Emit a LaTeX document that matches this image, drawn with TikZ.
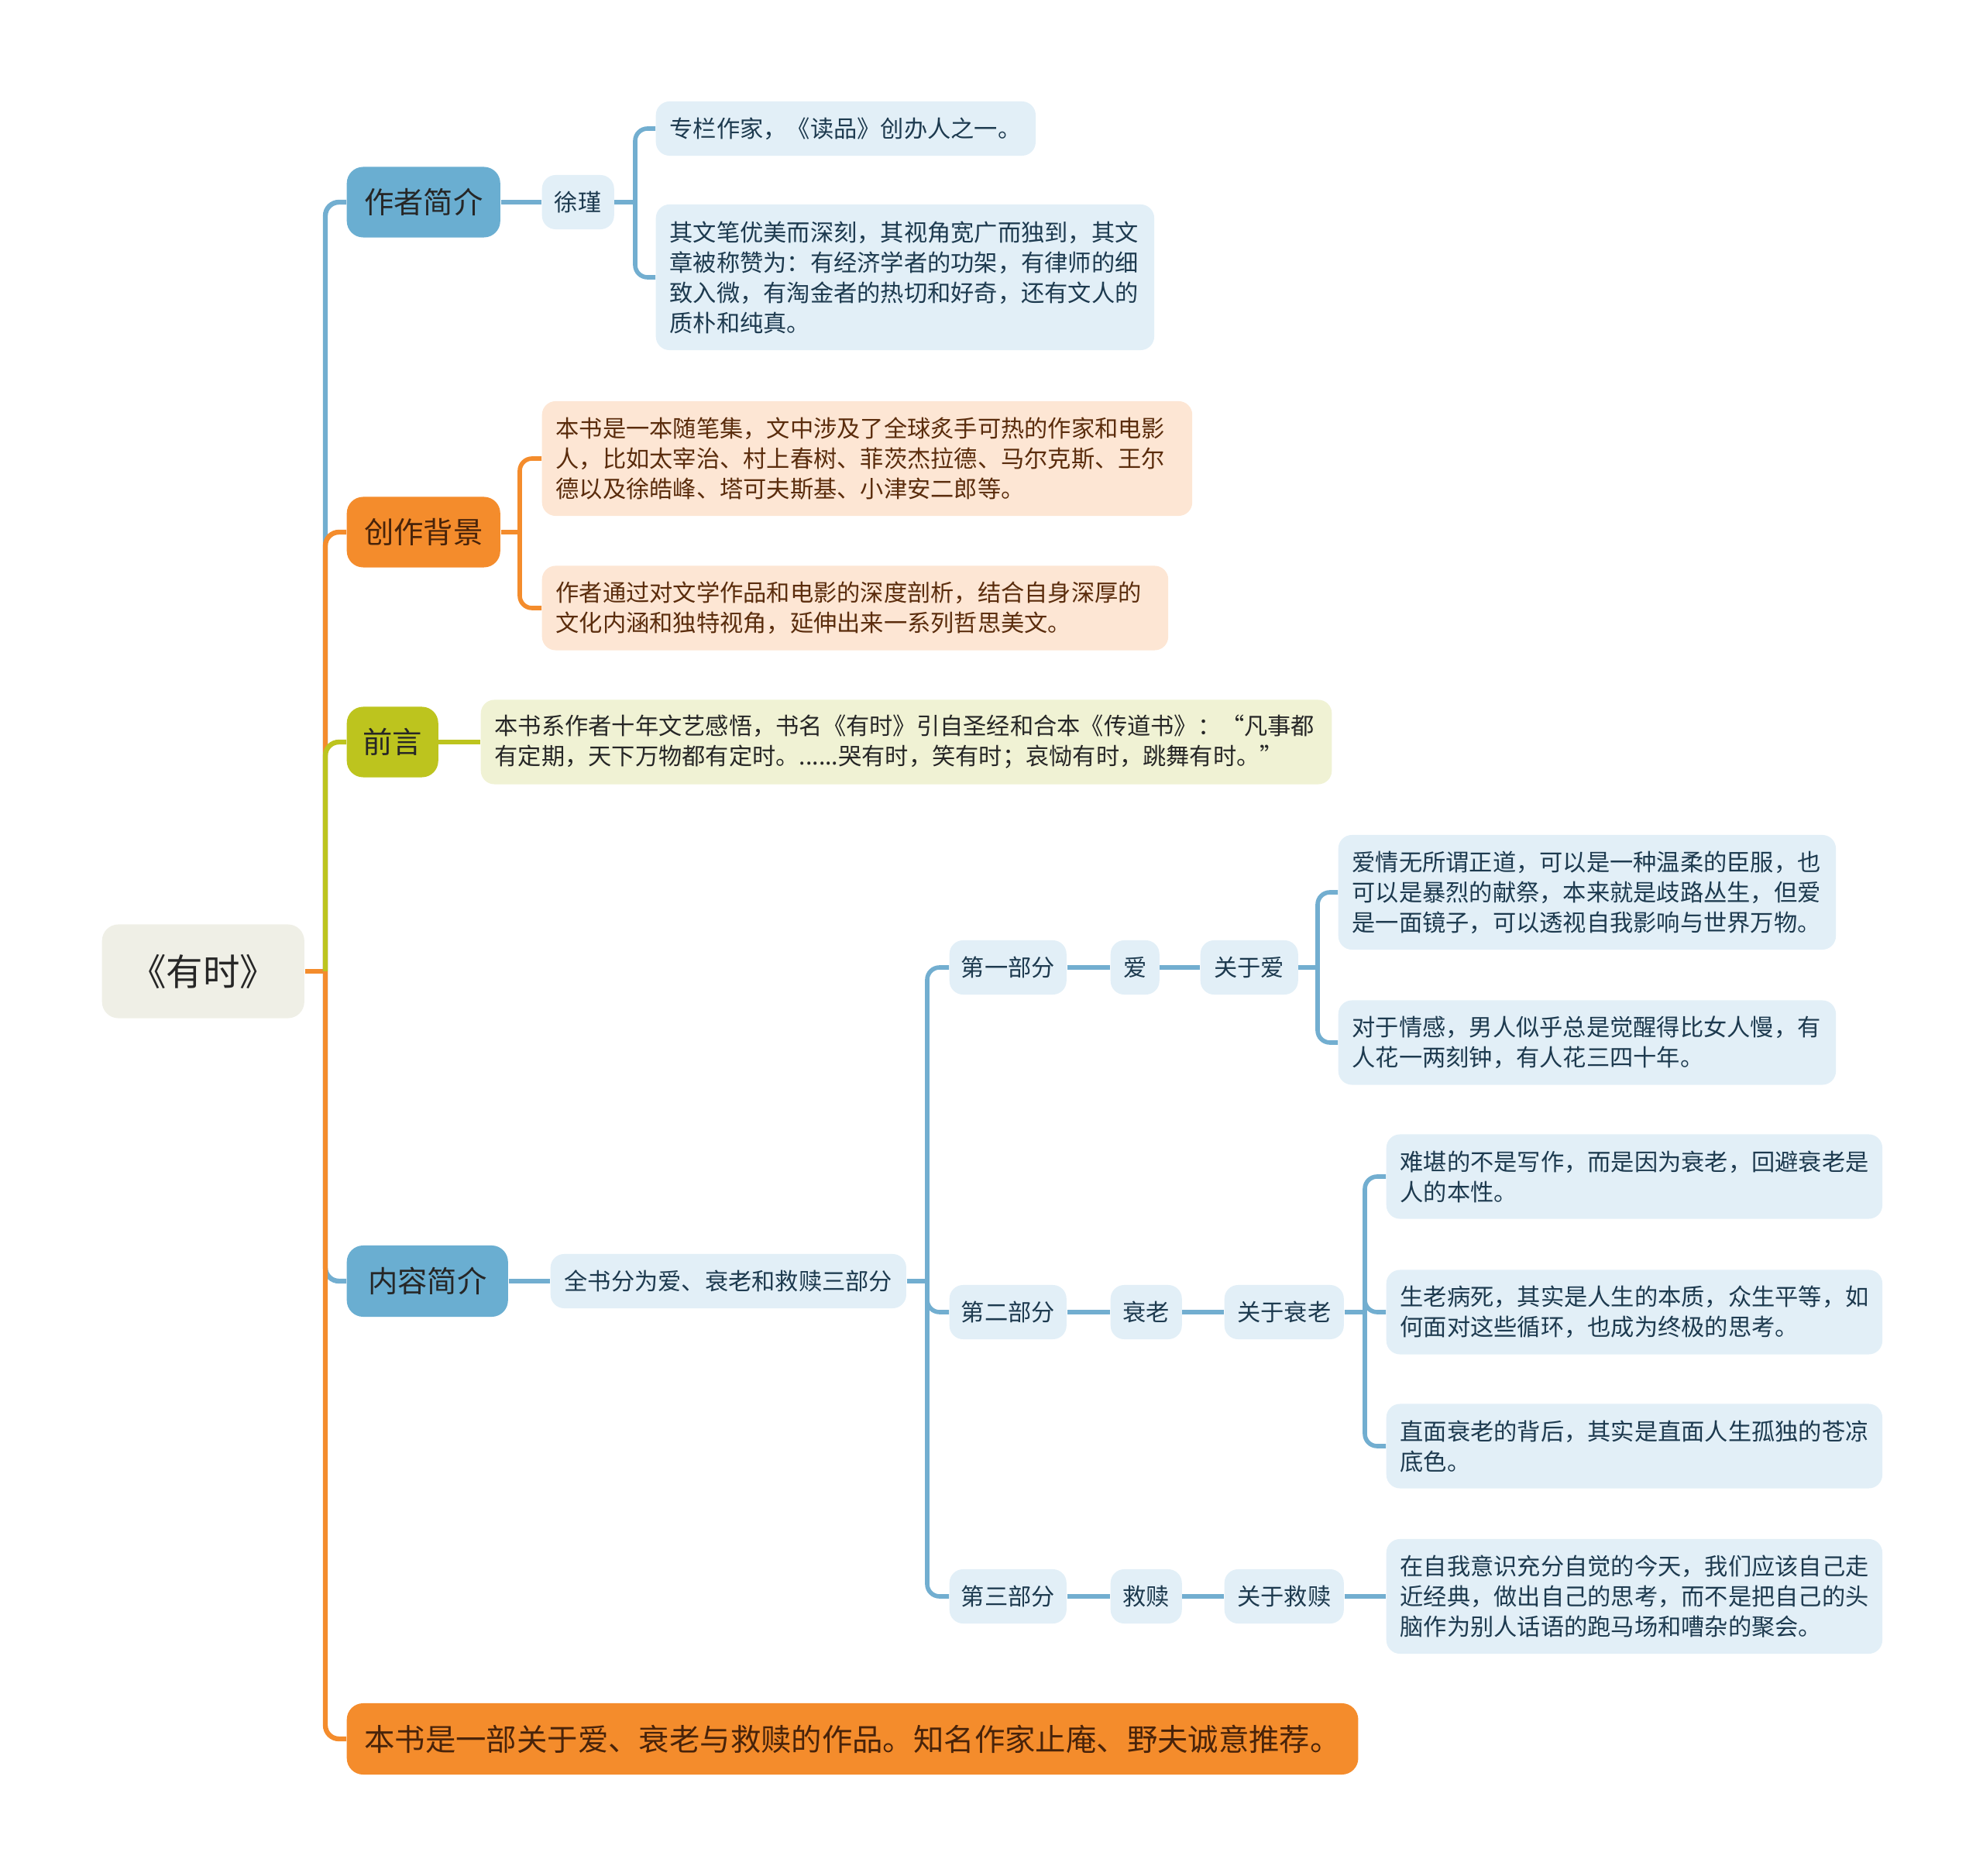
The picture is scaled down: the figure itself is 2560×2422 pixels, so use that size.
\documentclass[tikz,border=0pt]{standalone}
\usepackage{fontspec}
\setmainfont{Noto Sans CJK SC}
\usetikzlibrary{calc}
\definecolor{mainblue}{HTML}{6AAED1}
\definecolor{lineblue}{HTML}{72AED0}
\definecolor{paleblue}{HTML}{E2EFF7}
\definecolor{inkblue}{HTML}{1D3A4F}
\definecolor{mainorange}{HTML}{F48C2C}
\definecolor{palepeach}{HTML}{FDE6D4}
\definecolor{inkbrown}{HTML}{5A2C0C}
\definecolor{mainlime}{HTML}{BDC41E}
\definecolor{palelime}{HTML}{F0F2D4}
\definecolor{rootgrey}{HTML}{EFEFE6}
\tikzset{
  nd/.style={anchor=west,rounded corners=5pt,inner sep=0pt,align=left,text=inkblue,fill=paleblue,font=\fontsize{8.6}{11.1}\selectfont},
  small/.style={nd,minimum height=0.7cm,minimum width=#1},
  leaf/.style 2 args={nd,inner xsep=0.18cm,text width=#1,minimum height=#2},
  topic/.style={nd,rounded corners=6pt,minimum height=0.91cm,minimum width=#1,text=black!85,font=\fontsize{10.9}{13}\selectfont},
  ln/.style={line width=1.8pt,rounded corners=5pt},
  sl/.style={line width=1.6pt,rounded corners=4.5pt,lineblue},
}
\begin{document}
\begin{tikzpicture}[x=0.01cm,y=-0.01cm]
\useasboundingbox (0,0) rectangle (2560,2422);
\node[topic=2.61cm,minimum height=1.21cm,fill=rootgrey,text=black!85,font=\fontsize{13.5}{16}\selectfont] (root) at (131,1254) {《有时》};
% first level
\node[topic=1.98cm,fill=mainblue] (author) at (447,261) {作者简介};
\node[topic=1.98cm,fill=mainorange,text=inkbrown!80!black] (bg) at (447,687) {创作背景};
\node[topic=1.18cm,fill=mainlime] (preface) at (447,958) {前言};
\node[topic=2.08cm,minimum height=0.92cm,fill=mainblue] (content) at (447,1654) {内容简介};
\node[topic=13.05cm,minimum height=0.92cm,fill=mainorange,text=inkbrown!80!black,font=\fontsize{11.2}{13}\selectfont] (summary) at (447,2245) {本书是一部关于爱、衰老与救赎的作品。知名作家止庵、野夫诚意推荐。};
% author
\node[small=0.93cm] (xujin) at (699,261) {徐瑾};
\node[leaf={4.54cm}{0.7cm}] (author1) at (846,166) {专栏作家，《读品》创办人之一。};
\node[leaf={6.07cm}{1.88cm}] (author2) at (846,358) {其文笔优美而深刻，其视角宽广而独到，其文\\章被称赞为：有经济学者的功架，有律师的细\\致入微，有淘金者的热切和好奇，还有文人的\\质朴和纯真。};
% background
\node[leaf={8.03cm}{1.48cm},fill=palepeach,text=inkbrown] (bg1) at (699,592) {本书是一本随笔集，文中涉及了全球炙手可热的作家和电影\\人，比如太宰治、村上春树、菲茨杰拉德、马尔克斯、王尔\\德以及徐皓峰、塔可夫斯基、小津安二郎等。};
\node[leaf={7.72cm}{1.09cm},fill=palepeach,text=inkbrown] (bg2) at (699,785) {作者通过对文学作品和电影的深度剖析，结合自身深厚的\\文化内涵和独特视角，延伸出来一系列哲思美文。};
% preface
\node[leaf={10.62cm}{1.09cm},fill=palelime,text=black!85] (pref1) at (620,958) {本书系作者十年文艺感悟，书名《有时》引自圣经和合本《传道书》：“凡事都\\有定期，天下万物都有定时。......哭有时，笑有时；哀恸有时，跳舞有时。”};
% content
\node[small=4.59cm] (allbook) at (710,1654) {全书分为爱、衰老和救赎三部分};
\node[small=1.51cm] (part1) at (1225,1249) {第一部分};
\node[small=0.63cm] (love) at (1433,1249) {爱};
\node[small=1.26cm] (aboutlove) at (1549,1249) {关于爱};
\node[leaf={6.06cm}{1.48cm}] (love1) at (1727,1152) {爱情无所谓正道，可以是一种温柔的臣服，也\\可以是暴烈的献祭，本来就是歧路丛生，但爱\\是一面镜子，可以透视自我影响与世界万物。};
\node[leaf={6.06cm}{1.09cm}] (love2) at (1727,1346) {对于情感，男人似乎总是觉醒得比女人慢，有\\人花一两刻钟，有人花三四十年。};
\node[small=1.51cm] (part2) at (1225,1694) {第二部分};
\node[small=0.92cm] (aging) at (1433,1694) {衰老};
\node[small=1.54cm] (aboutaging) at (1580,1694) {关于衰老};
\node[leaf={6.04cm}{1.09cm}] (aging1) at (1789,1519) {难堪的不是写作，而是因为衰老，回避衰老是\\人的本性。};
\node[leaf={6.04cm}{1.09cm}] (aging2) at (1789,1694) {生老病死，其实是人生的本质，众生平等，如\\何面对这些循环，也成为终极的思考。};
\node[leaf={6.04cm}{1.09cm}] (aging3) at (1789,1867) {直面衰老的背后，其实是直面人生孤独的苍凉\\底色。};
\node[small=1.51cm] (part3) at (1225,2061) {第三部分};
\node[small=0.92cm] (redeem) at (1433,2061) {救赎};
\node[small=1.54cm] (aboutredeem) at (1580,2061) {关于救赎};
\node[leaf={6.04cm}{1.48cm}] (redeem1) at (1789,2061) {在自我意识充分自觉的今天，我们应该自己走\\近经典，做出自己的思考，而不是把自己的头\\脑作为别人话语的跑马场和嘈杂的聚会。};
% trunk
\coordinate (trunk) at (420,1254);
\draw[ln,mainorange] (root.east) -- (trunk);
\draw[ln,lineblue] (trunk) |- (author.west);
\draw[ln,mainorange] (trunk) |- (bg.west);
\draw[ln,mainlime] (trunk) |- (preface.west);
\draw[ln,lineblue] (trunk) |- (content.west);
\draw[ln,mainorange] (trunk) |- (summary.west);
% branches
\coordinate (xjfork) at (820,261);
\draw[sl] (author.east) -- (xujin.west);
\draw[sl] (xujin.east) -- (xjfork);
\draw[sl] (xjfork) |- (author1.west);
\draw[sl] (xjfork) |- (author2.west);
\coordinate (bgfork) at (671,687);
\draw[sl,mainorange] (bg.east) -- (bgfork);
\draw[sl,mainorange] (bgfork) |- (bg1.west);
\draw[sl,mainorange] (bgfork) |- (bg2.west);
\draw[sl,mainlime] (preface.east) -- (pref1.west);
\coordinate (partfork) at (1197,1654);
\draw[sl] (content.east) -- (allbook.west);
\draw[sl] (allbook.east) -- (partfork);
\draw[sl] (partfork) |- (part1.west);
\draw[sl] (partfork) |- (part2.west);
\draw[sl] (partfork) |- (part3.west);
\draw[sl] (part1.east) -- (love.west);
\draw[sl] (love.east) -- (aboutlove.west);
\coordinate (lovefork) at (1701,1249);
\draw[sl] (aboutlove.east) -- (lovefork);
\draw[sl] (lovefork) |- (love1.west);
\draw[sl] (lovefork) |- (love2.west);
\draw[sl] (part2.east) -- (aging.west);
\draw[sl] (aging.east) -- (aboutaging.west);
\coordinate (agefork) at (1762,1694);
\draw[sl] (aboutaging.east) -- (agefork);
\draw[sl] (agefork) |- (aging1.west);
\draw[sl] (agefork) |- (aging2.west);
\draw[sl] (agefork) |- (aging3.west);
\draw[sl] (part3.east) -- (redeem.west);
\draw[sl] (redeem.east) -- (aboutredeem.west);
\draw[sl] (aboutredeem.east) -- (redeem1.west);
\end{tikzpicture}
\end{document}
